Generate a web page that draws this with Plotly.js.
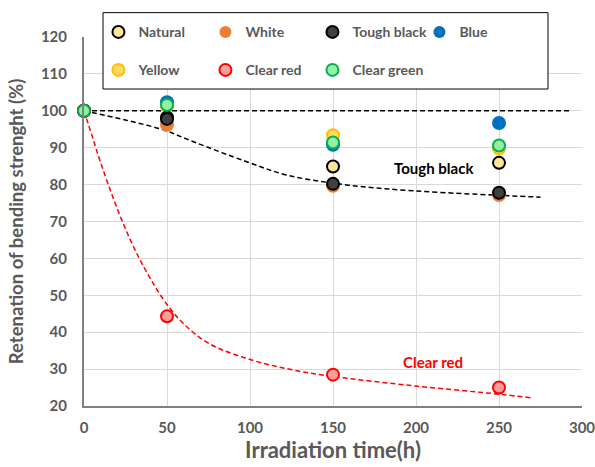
<!DOCTYPE html>
<html>
<head>
<meta charset="utf-8">
<script src="https://cdn.plot.ly/plotly-3.0.1.min.js"></script>
<style>html,body{margin:0;padding:0;background:#fff;}#chart{width:595px;height:467px;}</style>
</head>
<body>
<div id="chart"></div>
<script>
// ---- data ----
const timeH = [0, 50, 150, 250];
const natural    = [100, 98.2, 84.9, 85.9];
const white      = [100, 96.2, 79.7, 77.2];
const toughBlack = [100, 97.8, 80.2, 77.8];
const blue       = [100, 102.3, 90.8, 96.7];
const yellow     = [100, 101.4, 93.4, 89.8];
const clearRed   = [100, 44.3, 28.5, 25.0];
const clearGreen = [100, 101.6, 91.4, 90.6];

// reference line at 100 %
const refX = [0, 294];
const refY = [100, 100];
// Tough black trend curve
const tbTrendX = [0, 25, 48, 66, 98, 122, 150, 178, 218, 275];
const tbTrendY = [100, 97.5, 94.8, 91.6, 86.2, 82.6, 80.4, 79.0, 77.8, 76.6];
// Clear red trend curve
const crTrendX = [0, 5, 10, 20, 30, 40, 50, 60, 75, 100, 130, 150, 200, 250, 270];
const crTrendY = [100, 93, 86, 73.5, 63, 54.5, 47.5, 42.3, 37, 32.6, 29.4, 28.0, 25.4, 23.2, 22.2];

const xTicks = [0, 50, 100, 150, 200, 250, 300];
const yTicks = [20, 30, 40, 50, 60, 70, 80, 90, 100, 110, 120];

const FONT = "Lato, 'Open Sans', sans-serif";
const GREY = '#595959';

function pts(name, y, fill, lineColor, lineW, size, legend, rank) {
  return {
    type: 'scatter', mode: 'markers', name: name, x: timeH, y: y,
    legend: legend, legendrank: rank,
    marker: {symbol: 'circle', size: size, color: fill,
             line: {color: lineColor, width: lineW}},
    cliponaxis: false
  };
}

const traces = [
  {type: 'scatter', mode: 'lines', x: refX, y: refY, showlegend: false,
   line: {color: '#000000', width: 1.5, dash: '5px,3px'}, hoverinfo: 'skip'},
  {type: 'scatter', mode: 'lines', x: tbTrendX, y: tbTrendY, showlegend: false,
   line: {color: '#000000', width: 1.5, dash: '5px,3px', shape: 'spline'}, hoverinfo: 'skip'},
  {type: 'scatter', mode: 'lines', x: crTrendX, y: crTrendY, showlegend: false,
   line: {color: '#FF0000', width: 1.5, dash: '5px,3px', shape: 'spline'}, hoverinfo: 'skip'},
  pts('White', white, '#ED7D31', '#ED7D31', 0, 14, 'legend', 2),
  pts('Blue', blue, '#0070C0', '#0070C0', 0, 14, 'legend', 4),
  pts('Yellow', yellow, '#FFD966', '#FFC000', 2, 12, 'legend2', 1),
  pts('Natural', natural, '#FFE699', '#000000', 2, 12, 'legend', 1),
  pts('Tough black', toughBlack, '#404040', '#000000', 2, 12, 'legend', 3),
  pts('Clear red', clearRed, '#FF9B9B', '#FF0000', 2, 12, 'legend2', 2),
  pts('Clear green', clearGreen, '#95EFA3', '#00B050', 2, 12, 'legend2', 3),
  // empty spacer entry so the last legend label is not clipped
  {type: 'scatter', mode: 'markers', name: ' ', x: [null], y: [null],
   legend: 'legend2', legendrank: 4,
   marker: {color: 'rgba(0,0,0,0)', line: {width: 0, color: 'rgba(0,0,0,0)'}},
   hoverinfo: 'skip'}
];

const legendCommon = {
  orientation: 'h', xref: 'paper', yref: 'paper', xanchor: 'left', yanchor: 'middle',
  bgcolor: 'rgba(0,0,0,0)', borderwidth: 0,
  font: {family: FONT, size: 14, color: GREY, weight: 700},
  itemsizing: 'constant', entrywidth: 62, entrywidthmode: 'pixels',
  itemclick: false, itemdoubleclick: false
};

const layout = {
  width: 595, height: 467,
  margin: {l: 84, r: 13, t: 37, b: 61},
  paper_bgcolor: '#ffffff', plot_bgcolor: '#ffffff',
  font: {family: FONT, color: GREY},
  showlegend: true,
  legend: Object.assign({}, legendCommon, {x: 0.029, y: 1.0127}),
  legend2: Object.assign({}, legendCommon, {x: 0.029, y: 0.9098}),
  xaxis: {
    range: [0, 300], tickvals: xTicks, ticktext: xTicks.map(String),
    showgrid: true, gridcolor: '#D9D9D9', gridwidth: 1,
    showline: true, linecolor: '#808080', linewidth: 2,
    zeroline: false, ticks: '', ticklabelstandoff: 7, ticklabeloverflow: 'allow',
    tickfont: {family: FONT, size: 15, color: GREY, weight: 700},
    title: {text: 'Irradiation time(h)', standoff: 2,
            font: {family: FONT, size: 22, color: GREY, weight: 700}}
  },
  yaxis: {
    range: [20, 120], tickvals: yTicks, ticktext: yTicks.map(String),
    showgrid: true, gridcolor: '#D9D9D9', gridwidth: 1,
    showline: true, linecolor: '#808080', linewidth: 2,
    zeroline: false, ticks: '', ticklabelstandoff: 12,
    tickfont: {family: FONT, size: 15, color: GREY, weight: 700},
    title: {text: 'Retenation of bending strenght (%)', standoff: 12,
            font: {family: FONT, size: 18.5, color: GREY, weight: 700}}
  },
  shapes: [
    {type: 'rect', xref: 'paper', yref: 'paper', layer: 'above',
     x0: 0.0382, x1: 0.9317, y0: 0.859, y1: 1.066,
     fillcolor: '#ffffff', line: {color: '#000000', width: 1}}
  ],
  annotations: [
    {x: 211, y: 84.5, xref: 'x', yref: 'y', text: 'Tough black', showarrow: false,
     font: {family: FONT, size: 15, color: '#000000', weight: 700}},
    {x: 210, y: 32, xref: 'x', yref: 'y', text: 'Clear red', showarrow: false,
     font: {family: FONT, size: 15, color: '#FF0000', weight: 700}}
  ]
};

Plotly.newPlot('chart', traces, layout, {displayModeBar: false, staticPlot: true});
</script>
</body>
</html>
